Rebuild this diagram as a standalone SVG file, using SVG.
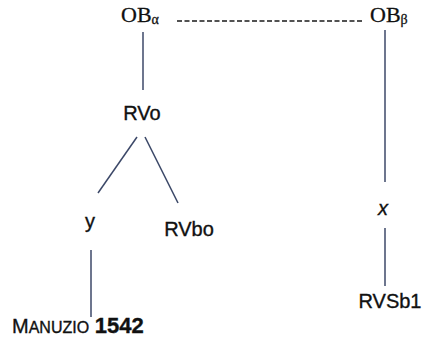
<svg xmlns="http://www.w3.org/2000/svg" width="422" height="341" viewBox="0 0 422 341">
<style>
.bg{fill:#ffffff}
.sans{font-family:"Liberation Sans",Arial,sans-serif;font-size:20px;fill:#111111;stroke:#111111;stroke-width:0.35}
.serif{font-family:"Liberation Serif","Times New Roman",serif;font-size:22px;fill:#111111;stroke:#111111;stroke-width:0.3}
.sub{font-size:14px}
.edge{stroke:#3c4868;stroke-width:1.5;fill:none}
.dash{stroke:#1a1a1a;stroke-width:1.4;stroke-dasharray:5 2.5;fill:none}
</style>
<rect class="bg" x="0" y="0" width="422" height="341"/>
<g id="connectors">
  <line class="dash" x1="177" y1="21" x2="363" y2="21"/>
  <line class="edge" x1="143" y1="32" x2="143" y2="90"/>
  <line class="edge" x1="137" y1="137" x2="98" y2="193"/>
  <line class="edge" x1="145" y1="137" x2="178" y2="203"/>
  <line class="edge" x1="91" y1="250" x2="91" y2="317"/>
  <line class="edge" x1="385" y1="30" x2="385" y2="182"/>
  <line class="edge" x1="385" y1="228" x2="385" y2="286"/>
</g>
<g id="OBa"><text class="serif" x="121" y="22">OB<tspan class="sub" dy="2">α</tspan></text></g>
<g id="OBb"><text class="serif" x="370" y="22">OB<tspan class="sub" dy="2">β</tspan></text></g>
<g id="RVo"><text class="sans" x="142" y="120" text-anchor="middle">RVo</text></g>
<g id="y"><text class="sans" x="90" y="228" text-anchor="middle">y</text></g>
<g id="RVbo"><text class="sans" x="189" y="236" text-anchor="middle">RVbo</text></g>
<g id="x"><text class="sans" x="383" y="215" text-anchor="middle" font-style="italic">x</text></g>
<g id="RVSb1"><text class="sans" x="390" y="308" text-anchor="middle">RVSb1</text></g>
<g id="Manuzio"><text class="sans" x="12" y="333">M<tspan font-size="16">ANUZIO</tspan> <tspan font-size="22" font-weight="bold">1542</tspan></text></g>
</svg>
